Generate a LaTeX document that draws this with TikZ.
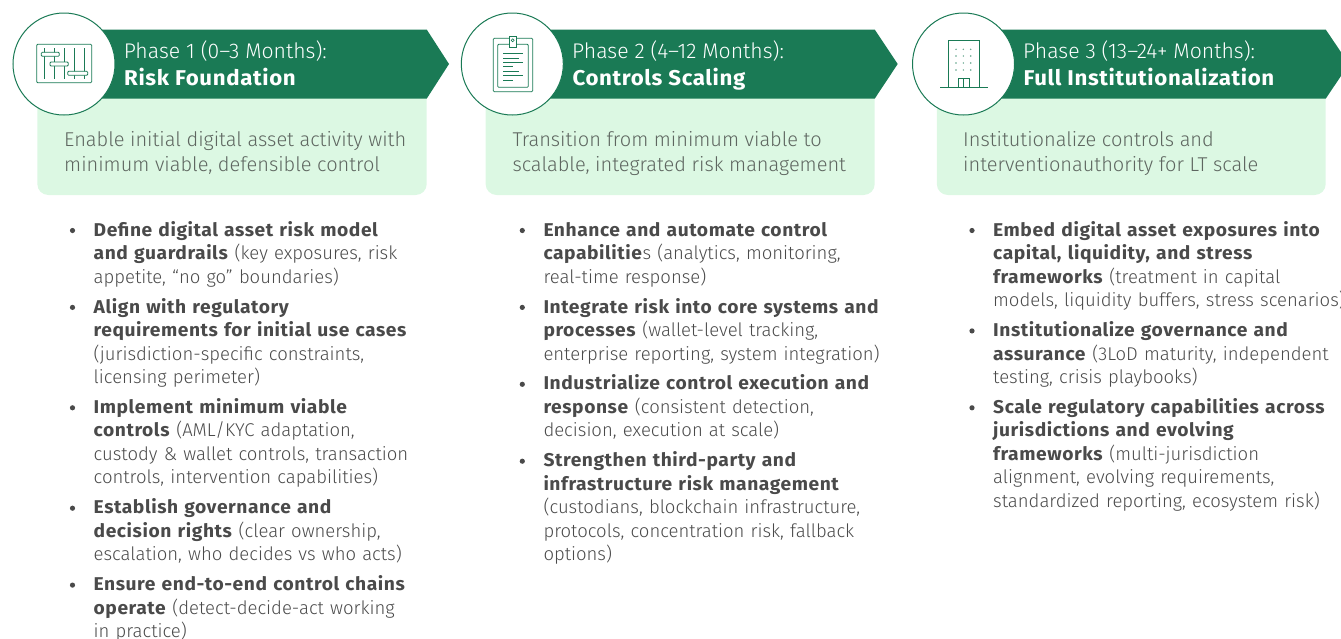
\documentclass[tikz,border=0pt]{standalone}
\usepackage{fontspec}
\setmainfont{Fira Sans}[UprightFont=* Light, BoldFont=* Bold, BoldFeatures={LetterSpace=3, FakeStretch=1.04}]
\usetikzlibrary{positioning}
\definecolor{phasegreen}{HTML}{1A7A55}
\definecolor{palegreen}{HTML}{DCF8E3}
\definecolor{desctext}{HTML}{5E6660}
\definecolor{itemtext}{HTML}{4A4A4A}
\tikzset{
  phasecirc/.style={circle, draw=phasegreen, fill=white, line width=1pt, minimum size=102pt, inner sep=0pt},
  phaseline/.style={anchor=base west, inner sep=0pt, text=white, font=\fontsize{21.2}{24}\selectfont},
  phasename/.style={anchor=base west, inner sep=0pt, text=white, font=\bfseries\fontsize{21.4}{26}\selectfont},
  phasedesc/.style={anchor=base west, inner sep=0pt, align=left, text=desctext, font=\fontsize{20}{25}\selectfont},
  item/.style={anchor=north west, inner sep=0pt, text width=360pt, align=left, text=itemtext,
    font=\fontsize{18.5}{23.5}\selectfont, execute at begin node=\strut, execute at end node=\strut},
  icon/.style={draw=phasegreen, line width=0.8pt},
}
\begin{document}
\begin{tikzpicture}[x=1pt, y=-1pt]
  \useasboundingbox (0,0) rectangle (1341,638);
  % headers
  \foreach \x/\tip/\right in {0/449/426.7, 448.3/449.4/426.4, 899.5/449.5/426.2} {
    \begin{scope}[xshift=\x]
      \fill[palegreen, rounded corners=11pt] (37.3,80) -- (37.3,195) -- (\right,195) -- (\right,80) -- cycle;
      \fill[phasegreen] (50,29.5) -- (\right,29.5) -- (\tip,64) -- (\right,98.7) -- (50,98.7) -- cycle;
      \node[phasecirc] (circ\x) at (64,64) {};
    \end{scope}
  }
  % first icon
  \draw[icon, rounded corners=1pt] (36.7,44.3) rectangle (91.7,82.7);
  \foreach \x in {44.3,54.3,64.3,74.3,84}
    \draw[icon] (\x,48) -- (\x,79);
  \draw[icon, fill=white, rounded corners=1pt] (41.3,52.3) rectangle (59.3,56.3);
  \draw[icon, fill=white, rounded corners=1pt] (50,62) rectangle (68.3,66);
  \draw[icon, fill=white, rounded corners=1pt] (67.7,71.3) rectangle (87.7,75.3);
  % second icon
  \draw[icon, rounded corners=1pt] (493.3,38.3) rectangle (532.7,91.7);
  \draw[icon, rounded corners=1pt] (497.7,44.3) rectangle (528.3,87.3);
  \draw[icon, fill=white] (509.3,36) rectangle (516,47.3);
  \draw[icon, line width=0.6pt] (512.7,40.3) circle (1.5);
  \foreach \y/\e in {53.7/522.7, 58/519.3, 62.3/522.7, 66.7/512.7, 71.3/519.3, 75.7/522.7, 80.3/512.7}
    \draw[icon] (503,\y) -- (\e,\y);
  % third icon
  \draw[icon] (948.3,87.7) -- (948.3,40) -- (979.3,40) -- (979.3,87.7);
  \draw[icon] (940,87.7) -- (987.7,87.7);
  \draw[icon] (958,87.7) -- (958,78.3) -- (969.7,78.3) -- (969.7,87.7);
  \draw[icon] (963.7,78.3) -- (963.7,87.7);
  \foreach \x in {956,963.3,970.7}
    \foreach \y in {49.3,56,63,70}
      \fill[phasegreen!70] (\x,\y) circle (0.8);
  % header text
  \node[phaseline] (phase1) at (123.6,58) {Phase 1 (0–3 Months):};
  \node[phasename] (name1) at (124,85) {Risk Foundation};
  \node[phaseline] (phase2) at (572,58) {Phase 2 (4–12 Months):};
  \node[phasename] (name2) at (572.4,85) {Controls Scaling};
  \node[phaseline] (phase3) at (1023,58) {Phase 3 (13–24+ Months):};
  \node[phasename] (name3) at (1023.4,85) {Full Institutionalization};
  \node[phasedesc] (desc1) at (64,171.7) {Enable initial digital asset activity with\\minimum viable, defensible control};
  \node[phasedesc] (desc2) at (512.3,171.7) {Transition from minimum viable to\\scalable, integrated risk management};
  \node[phasedesc] (desc3) at (963,171.7) {Institutionalize controls and\\interventionauthority for LT scale};
  % first list
  \node[item] (a1) at (93.5,219.5) {\textbf{Define digital asset risk model}\\\textbf{and guardrails} (key exposures, risk\\appetite, “no go” boundaries)};
  \node[item, below=6pt of a1.south west, anchor=north west] (a2) {\textbf{Align with regulatory}\\\textbf{requirements for initial use cases}\\(jurisdiction-specific constraints,\\licensing perimeter)};
  \node[item, below=6pt of a2.south west, anchor=north west] (a3) {\textbf{Implement minimum viable}\\\textbf{controls} (AML/KYC adaptation,\\custody \& wallet controls, transaction\\controls, intervention capabilities)};
  \node[item, below=6pt of a3.south west, anchor=north west] (a4) {\textbf{Establish governance and}\\\textbf{decision rights} (clear ownership,\\escalation, who decides vs who acts)};
  \node[item, below=6pt of a4.south west, anchor=north west] (a5) {\textbf{Ensure end-to-end control chains}\\\textbf{operate} (detect-decide-act working\\in practice)};
  % second list
  \node[item] (b1) at (543.3,219.5) {\textbf{Enhance and automate control}\\\textbf{capabilitie}s (analytics, monitoring,\\real-time response)};
  \node[item, below=6pt of b1.south west, anchor=north west] (b2) {\textbf{Integrate risk into core systems and}\\\textbf{processes} (wallet-level tracking,\\enterprise reporting, system integration)};
  \node[item, below=6pt of b2.south west, anchor=north west] (b3) {\textbf{Industrialize control execution and}\\\textbf{response} (consistent detection,\\decision, execution at scale)};
  \node[item, below=6pt of b3.south west, anchor=north west] (b4) {\textbf{Strengthen third-party and}\\\textbf{infrastructure risk management}\\(custodians, blockchain infrastructure,\\protocols, concentration risk, fallback\\options)};
  % third list
  \node[item] (c1) at (993,219.5) {\textbf{Embed digital asset exposures into}\\\textbf{capital, liquidity, and stress}\\\textbf{frameworks} (treatment in capital\\models, liquidity buffers, stress scenarios)};
  \node[item, below=6pt of c1.south west, anchor=north west] (c2) {\textbf{Institutionalize governance and}\\\textbf{assurance} (3LoD maturity, independent\\testing, crisis playbooks)};
  \node[item, below=6pt of c2.south west, anchor=north west] (c3) {\textbf{Scale regulatory capabilities across}\\\textbf{jurisdictions and evolving}\\\textbf{frameworks} (multi-jurisdiction\\alignment, evolving requirements,\\standardized reporting, ecosystem risk)};
  % bullets
  \foreach \n in {a1,a2,a3,a4,a5,b1,b2,b3,b4,c1,c2,c3}
    \fill[itemtext] ([xshift=-21pt,yshift=-11pt]\n.north west) circle (2.6);
\end{tikzpicture}
\end{document}
